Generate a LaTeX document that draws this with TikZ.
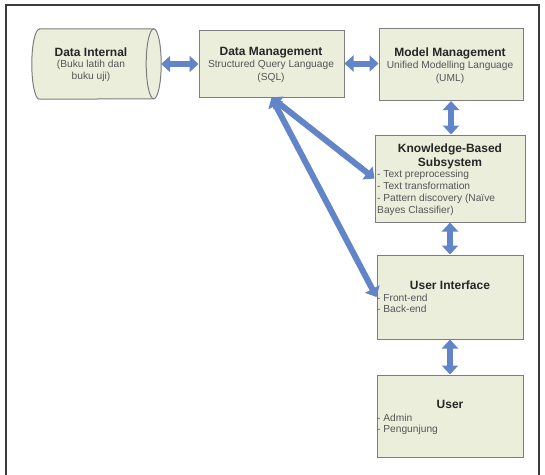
\documentclass[tikz,border=0pt]{standalone}
\usepackage{fontspec}
\setmainfont{Liberation Sans}
\usetikzlibrary{shapes.geometric, arrows.meta, positioning, calc}
\definecolor{boxfill}{RGB}{236,238,220}
\definecolor{boxedge}{RGB}{125,125,125}
\definecolor{linkblue}{RGB}{98,132,200}
\definecolor{textgrey}{RGB}{85,85,85}
\definecolor{framegrey}{RGB}{60,60,60}

\begin{document}
\begin{tikzpicture}[x=1pt, y=-1pt,
  box/.style={shape=rectangle, draw=boxedge, line width=1pt, fill=boxfill, inner sep=0pt},
  title/.style={font=\bfseries\fontsize{12}{14}\selectfont, text=black!85, inner sep=0pt},
  detail/.style={font=\fontsize{10.2}{12}\selectfont, text=textgrey, inner sep=0pt},
  link/.style={draw=linkblue, line width=6pt, {Triangle[length=9pt,width=16pt]}-{Triangle[length=9pt,width=16pt]}}]
\useasboundingbox (0,0) rectangle (545,474);
% outer frame
\draw[framegrey, line width=1.2pt] (6,5) rectangle (539,480);

% components
\node[inner sep=0pt, minimum width=129pt, minimum height=70pt] (dataint) at (96.5,64) {};
\draw[draw=boxedge, fill=boxfill, line width=1pt]
  ([xshift=7.5pt]dataint.north west) -- ([xshift=-7.5pt]dataint.north east)
  arc[start angle=90, end angle=-90, x radius=7.5pt, y radius=35pt]
  -- ([xshift=7.5pt]dataint.south west)
  arc[start angle=270, end angle=90, x radius=7.5pt, y radius=35pt] -- cycle;
\draw[draw=boxedge, line width=1pt] ([xshift=-7.5pt]dataint.north east)
  arc[start angle=90, end angle=270, x radius=7.5pt, y radius=35pt];
\node[box, minimum width=145pt, minimum height=67pt] (datamgmt) at (271.5,63.5) {};
\node[box, minimum width=144pt, minimum height=72pt] (modelmgmt) at (451,64.5) {};
\node[box, minimum width=150pt, minimum height=87pt] (kbs) at (450,178.5) {};
\node[box, minimum width=146pt, minimum height=84pt] (ui) at (450,297) {};
\node[box, minimum width=146pt, minimum height=82pt] (user) at (450,416) {};

% texts
\node[title, anchor=base] (dataint-title) at (91,56) {Data Internal};
\node[detail, align=center, anchor=north] (dataint-text) at (91,60.4) {(Buku latih dan\\buku uji)};
\node[title, anchor=base] (datamgmt-title) at (271,55) {Data Management};
\node[detail, align=center, anchor=north, font=\fontsize{10.2}{13}\selectfont] (datamgmt-text) at (271,60.4) {Structured Query Language\\(SQL)};
\node[title, anchor=base] (modelmgmt-title) at (450,56) {Model Management};
\node[detail, align=center, anchor=north, font=\fontsize{10.2}{13}\selectfont] (modelmgmt-text) at (450,61.4) {Unified Modelling Language\\(UML)};
\node[title, align=center, anchor=north] (kbs-title) at (450,143.2) {Knowledge-Based\\Subsystem};
\node[detail, align=left, anchor=north west] (kbs-text) at (377,170.4) {- Text preprocessing\\- Text transformation\\- Pattern discovery (Naïve\\Bayes Classifier)};
\node[title, anchor=base] (ui-title) at (450,289) {User Interface};
\node[detail, align=left, anchor=north west, font=\fontsize{10.2}{11}\selectfont] (ui-text) at (377,294.4) {- Front-end\\- Back-end};
\node[title, anchor=base] (user-title) at (450,408) {User};
\node[detail, align=left, anchor=north west, font=\fontsize{10.2}{11}\selectfont] (user-text) at (377,413.4) {- Admin\\- Pengunjung};

% connections
\draw[link] (dataint.east) -- (dataint.east -| datamgmt.west);
\draw[link] (datamgmt.east) -- (datamgmt.east -| modelmgmt.west);
\draw[link] (modelmgmt.south) -- (modelmgmt.south |- kbs.north);
\draw[link] (kbs.south) -- (ui.north);
\draw[link] (ui.south) -- (user.north);
\draw[link] (datamgmt.south) -- (kbs.west);
\draw[link] (datamgmt.south) -- (ui.west);
\end{tikzpicture}
\end{document}
